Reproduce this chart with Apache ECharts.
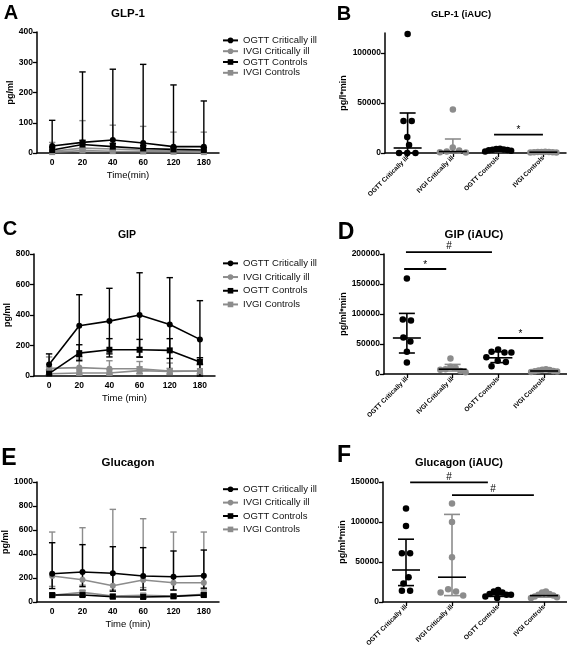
<!DOCTYPE html>
<html><head><meta charset="utf-8">
<script src="https://cdn.jsdelivr.net/npm/echarts@6/dist/echarts.min.js"></script>
<style>html,body{margin:0;padding:0;background:#fff}#c{width:567px;height:651px}</style>
</head><body><div id="c"></div>
<script>
// ---------------- DATA ----------------
const timeLabels = ['0', '20', '40', '60', '120', '180'];
const seriesNames = ['OGTT Critically ill', 'IVGI Critically ill', 'OGTT Controls', 'IVGI Controls'];
const groupLabels = ['OGTT Critically ill', 'IVGI Critically ill', 'OGTT Controls', 'IVGI Controls'];

// GLP-1 time course (pg/ml): mean, upper, lower
const glpOgttCrit   = [23, 35, 43, 33, 21, 21];
const glpOgttCritHi = [108, 268, 277, 293, 225, 172];
const glpOgttCritLo = [0, 0, 0, 0, 0, 0];
const glpIvgiCrit   = [6, 16, 13, 10, 7, 6];
const glpIvgiCritHi = [35, 107, 92, 88, 69, 69];
const glpIvgiCritLo = [0, 0, 0, 0, 0, 0];
const glpOgttCtrl   = [10, 28, 21, 15, 12, 10];
const glpOgttCtrlHi = [20, 42, 32, 25, 20, 18];
const glpOgttCtrlLo = [3, 14, 10, 6, 4, 3];
const glpIvgiCtrl   = [3, 8, 6, 5, 4, 3];
const glpIvgiCtrlHi = [8, 16, 12, 10, 9, 8];
const glpIvgiCtrlLo = [0, 2, 1, 1, 0, 0];

// GIP time course
const gipOgttCrit   = [75, 330, 360, 400, 338, 240];
const gipOgttCritHi = [145, 533, 575, 677, 645, 494];
const gipOgttCritLo = [5, 127, 145, 123, 31, 0];
const gipIvgiCrit   = [50, 55, 48, 48, 33, 33];
const gipIvgiCritHi = [125, 110, 100, 95, 85, 80];
const gipIvgiCritLo = [10, 15, 15, 15, 10, 10];
const gipOgttCtrl   = [15, 150, 172, 172, 168, 92];
const gipOgttCtrlHi = [40, 205, 245, 240, 245, 120];
const gipOgttCtrlLo = [5, 100, 125, 125, 115, 75];
const gipIvgiCtrl   = [15, 20, 20, 35, 30, 33];
const gipIvgiCtrlHi = [60, 45, 45, 60, 50, 110];
const gipIvgiCtrlLo = [5, 8, 8, 15, 15, 15];

// Glucagon time course
const gcgOgttCrit   = [236, 250, 239, 217, 211, 219];
const gcgOgttCritHi = [494, 478, 461, 453, 425, 433];
const gcgOgttCritLo = [112, 128, 90, 100, 100, 115];
const gcgIvgiCrit   = [217, 186, 136, 183, 161, 161];
const gcgIvgiCritHi = [583, 619, 772, 694, 583, 583];
const gcgIvgiCritLo = [130, 140, 100, 120, 100, 100];
const gcgOgttCtrl   = [58, 58, 44, 42, 47, 58];
const gcgOgttCtrlHi = [68, 70, 55, 52, 57, 68];
const gcgOgttCtrlLo = [48, 46, 33, 32, 37, 48];
const gcgIvgiCtrl   = [55, 80, 50, 55, 50, 65];
const gcgIvgiCtrlHi = [70, 95, 62, 68, 62, 78];
const gcgIvgiCtrlLo = [40, 65, 38, 42, 38, 52];

// GLP-1 iAUC (pg/l*min) individual values per group
const glpAucOgttCrit = [119000, 32000, 32000, 16000, 8000, 0, 0, 0];
const glpAucIvgiCrit = [43500, 5500, 2500, 1500, 800, 500];
const glpAucOgttCtrl = [4200, 4000, 3600, 3300, 3000, 2800, 2200, 1600];
const glpAucIvgiCtrl = [1300, 1100, 1000, 900, 800, 700, 600, 500];
const glpAucCenter = [5000, 1500, 2500, 800];
const glpAucLow    = [0, 0, 1800, 500];
const glpAucHigh   = [40000, 14000, 3500, 1100];

// GIP iAUC
const gipAucOgttCrit = [159000, 91000, 89000, 61000, 54000, 37000, 19000];
const gipAucIvgiCrit = [26000, 12000, 10000, 8000, 7000, 5000, 3000];
const gipAucOgttCtrl = [41000, 37000, 36000, 36000, 28000, 22000, 20000, 13000];
const gipAucIvgiCtrl = [8000, 7000, 6500, 6000, 5000, 4500, 4000, 3500];
const gipAucCenter = [60000, 8000, 27000, 5000];
const gipAucLow    = [35000, 5000, 19000, 4000];
const gipAucHigh   = [101000, 16000, 37000, 6500];

// Glucagon iAUC
const gcgAucOgttCrit = [117000, 95000, 61000, 61000, 31000, 23000, 14000, 14000];
const gcgAucIvgiCrit = [123000, 100000, 56000, 16000, 13000, 12000, 8000];
const gcgAucOgttCtrl = [15000, 13000, 12000, 10000, 9000, 9000, 7000, 5000];
const gcgAucIvgiCtrl = [13000, 12000, 10000, 9000, 8000, 7000, 6000, 5000];
const gcgAucCenter = [40000, 31000, 9000, 8000];
const gcgAucLow    = [20500, 8000, 7000, 6000];
const gcgAucHigh   = [78500, 109500, 11000, 10000];

// significance annotations (group-index span, level, mark)
const sigBFrom = [1.91], sigBTo = [2.99], sigBLevel = [18300], sigBMark = ['*'];
const sigDFrom = [-0.02, -0.06, 1.99], sigDTo = [1.86, 0.86, 2.98], sigDLevel = [203000, 175000, 60000], sigDMark = ['#', '*', '*'];
const sigFFrom = [0.09, 1.0], sigFTo = [1.78, 2.78], sigFLevel = [149500, 133700], sigFMark = ['#', '#'];

// ---------------- STYLE / LAYOUT ----------------
const FONT = '"Liberation Sans", Arial, Helvetica, sans-serif';
const BLACK = '#000000', GRAY = '#8c8c8c';
const colors = [BLACK, GRAY, BLACK, GRAY];
const symbols = ['circle', 'circle', 'rect', 'rect'];

const G = [
  {left: 37, top: 32, width: 182, height: 121},   // A
  {left: 385, top: 33, width: 181, height: 120},  // B
  {left: 34, top: 254, width: 181, height: 122},  // C
  {left: 384, top: 254, width: 183, height: 120}, // D
  {left: 37, top: 482, width: 182, height: 120},  // E
  {left: 383, top: 482, width: 184, height: 120}  // F
];

const axisLineStyle = {color: '#000', width: 1.5};
const tickStyle = {color: '#000', width: 1.3};

function catX(gi, name, gap) {
  return {
    type: 'category', gridIndex: gi, data: timeLabels, boundaryGap: true,
    name: name, nameLocation: 'middle', nameGap: gap,
    nameTextStyle: {fontFamily: FONT, fontSize: 9.5, color: '#000'},
    axisLine: {onZero: false, lineStyle: axisLineStyle},
    axisTick: {alignWithLabel: true, interval: 0, length: 4, lineStyle: tickStyle},
    axisLabel: {interval: 0, fontFamily: FONT, fontSize: 8.5, fontWeight: 'bold', color: '#000', margin: 5},
    splitLine: {show: false}
  };
}
function grpX(gi) {
  return {
    type: 'value', gridIndex: gi, min: -0.5, max: 3.5,
    axisLine: {onZero: false, lineStyle: axisLineStyle},
    axisTick: {customValues: [0, 1, 2, 3], length: 4, lineStyle: tickStyle},
    axisLabel: {customValues: [0, 1, 2, 3], rotate: 45, formatter: v => groupLabels[Math.round(v)] || '',
      fontFamily: FONT, fontSize: 6.5, fontWeight: 'bold', color: '#000', margin: 4},
    splitLine: {show: false}
  };
}
function valY(gi, max, interval, name, nameGap, fs, custom) {
  const y = {
    type: 'value', gridIndex: gi, min: 0, max: max, interval: interval,
    name: name, nameLocation: 'middle', nameGap: nameGap,
    nameTextStyle: {fontFamily: FONT, fontSize: 9, fontWeight: 'bold', color: '#000'},
    axisLine: {show: true, onZero: false, lineStyle: axisLineStyle},
    axisTick: {show: true, length: 4, lineStyle: tickStyle},
    axisLabel: {fontFamily: FONT, fontSize: fs, fontWeight: 'bold', color: '#000', margin: 4, formatter: v => String(v)},
    splitLine: {show: false}
  };
  if (custom) { y.axisTick.customValues = custom; y.axisLabel.customValues = custom; }
  return y;
}

function mkLine(x1, y1, x2, y2, color, w) {
  return {type: 'line', shape: {x1, y1, x2, y2}, style: {stroke: color, lineWidth: w, fill: null}};
}
function errRender(color) {
  return function (params, api) {
    const x = api.value(0);
    const lo = api.coord([x, api.value(1)]);
    const hi = api.coord([x, api.value(2)]);
    const w = 3.2;
    return {type: 'group', children: [
      mkLine(hi[0], hi[1], lo[0], lo[1], color, 1.4),
      mkLine(hi[0] - w, hi[1], hi[0] + w, hi[1], color, 1.4),
      mkLine(lo[0] - w, lo[1], lo[0] + w, lo[1], color, 1.4)
    ]};
  };
}
function statRender(params, api) {
  const g = api.value(0);
  const c = api.coord([g, api.value(1)]);
  const lo = api.coord([g, api.value(2)]);
  const hi = api.coord([g, api.value(3)]);
  const col = colors[g];
  const mw = 14, cw = 8;
  return {type: 'group', children: [
    mkLine(hi[0], hi[1], lo[0], lo[1], col, 1.6),
    mkLine(hi[0] - cw, hi[1], hi[0] + cw, hi[1], col, 1.6),
    mkLine(lo[0] - cw, lo[1], lo[0] + cw, lo[1], col, 1.6),
    mkLine(c[0] - mw, c[1], c[0] + mw, c[1], '#000', 1.6)
  ]};
}
function sigRender(marks) {
  return function (params, api) {
    const a = api.coord([api.value(0), api.value(2)]);
    const b = api.coord([api.value(1), api.value(2)]);
    const m = marks[params.dataIndex];
    return {type: 'group', children: [
      mkLine(a[0], a[1], b[0], b[1], '#000', 1.8),
      {type: 'text', x: (a[0] + b[0]) / 2, y: a[1] - (m === '*' ? 4 : 5.5),
        style: {text: m, font: '10px ' + FONT, fill: '#000', align: 'center', verticalAlign: 'middle',
          textAlign: 'center', textVerticalAlign: 'middle'}}
    ]};
  };
}

// beeswarm horizontal offsets (pixels)
function swarmOffsets(values, pxPerUnitY, D, maxHalf) {
  const order = values.map((v, i) => i).sort((a, b) => values[b] - values[a]);
  const pos = new Array(values.length);
  const placed = [];
  let side = 1;
  order.forEach(i => {
    const y = values[i] * pxPerUnitY;
    const cands = [0];
    placed.forEach(p => {
      const dy = Math.abs(p.y - y);
      if (dy < D) { const dx = Math.sqrt(D * D - dy * dy) + 0.01; cands.push(p.x + dx, p.x - dx); }
    });
    const ok = cands.filter(c => placed.every(p => Math.hypot(p.x - c, p.y - y) >= D - 0.001));
    ok.sort((a, b) => (Math.abs(Math.abs(a) - Math.abs(b)) > 0.05 ? Math.abs(a) - Math.abs(b) : (side > 0 ? b - a : a - b)));
    const p = {x: ok[0], y: y};
    side = -side;
    placed.push(p); pos[i] = p;
  });
  const parent = placed.map((_, k) => k);
  const find = k => parent[k] === k ? k : (parent[k] = find(parent[k]));
  for (let a = 0; a < placed.length; a++) for (let b = a + 1; b < placed.length; b++) {
    if (Math.hypot(placed[a].x - placed[b].x, placed[a].y - placed[b].y) < D + 0.5) parent[find(a)] = find(b);
  }
  const groups = {};
  placed.forEach((p, k) => { const r = find(k); (groups[r] = groups[r] || []).push(p); });
  Object.values(groups).forEach(g => {
    const m = g.reduce((s, p) => s + p.x, 0) / g.length;
    g.forEach(p => { p.x -= m; });
    const mx = Math.max(...g.map(p => Math.abs(p.x)));
    if (mx > maxHalf) g.forEach(p => { p.x *= maxHalf / mx; });
  });
  return pos.map(p => p.x);
}

const series = [];

function addLinePanel(gi, means, his, los) {
  const drawOrder = [3, 1, 2, 0];
  drawOrder.forEach(k => {
    series.push({
      name: 'err-' + gi + '-' + k, type: 'custom', xAxisIndex: gi, yAxisIndex: gi, z: 2, silent: true,
      renderItem: errRender(colors[k]),
      data: means[k].map((_, i) => [i, los[k][i], his[k][i]])
    });
  });
  drawOrder.forEach(k => {
    series.push({
      name: seriesNames[k], type: 'line', xAxisIndex: gi, yAxisIndex: gi, z: 3, silent: true,
      data: means[k], symbol: symbols[k], symbolSize: 6, showSymbol: true,
      lineStyle: {color: colors[k], width: 1.6}, itemStyle: {color: colors[k]},
      emphasis: {disabled: true}
    });
  });
}

function addScatterPanel(gi, yMax, groups, center, low, high, sFrom, sTo, sLevel, sMark) {
  const g = G[gi];
  const pxY = g.height / yMax, pxX = g.width / 4;
  groups.forEach((vals, k) => {
    const offs = swarmOffsets(vals, pxY, 8.2, 13);
    series.push({
      name: 'dots-' + gi + '-' + k, type: 'scatter', xAxisIndex: gi, yAxisIndex: gi, z: 3, silent: true,
      symbol: 'circle', symbolSize: 6.5, itemStyle: {color: colors[k], opacity: 1},
      data: vals.map((v, i) => [k + offs[i] / pxX, v])
    });
  });
  series.push({
    name: 'stat-' + gi, type: 'custom', xAxisIndex: gi, yAxisIndex: gi, z: 4, silent: true,
    renderItem: statRender,
    data: center.map((c, k) => [k, c, low[k], high[k]])
  });
  series.push({
    name: 'sig-' + gi, type: 'custom', xAxisIndex: gi, yAxisIndex: gi, z: 4, silent: true, clip: false,
    renderItem: sigRender(sMark),
    data: sFrom.map((f, i) => [f, sTo[i], sLevel[i]])
  });
}

addLinePanel(0,
  [glpOgttCrit, glpIvgiCrit, glpOgttCtrl, glpIvgiCtrl],
  [glpOgttCritHi, glpIvgiCritHi, glpOgttCtrlHi, glpIvgiCtrlHi],
  [glpOgttCritLo, glpIvgiCritLo, glpOgttCtrlLo, glpIvgiCtrlLo]);
addLinePanel(2,
  [gipOgttCrit, gipIvgiCrit, gipOgttCtrl, gipIvgiCtrl],
  [gipOgttCritHi, gipIvgiCritHi, gipOgttCtrlHi, gipIvgiCtrlHi],
  [gipOgttCritLo, gipIvgiCritLo, gipOgttCtrlLo, gipIvgiCtrlLo]);
addLinePanel(4,
  [gcgOgttCrit, gcgIvgiCrit, gcgOgttCtrl, gcgIvgiCtrl],
  [gcgOgttCritHi, gcgIvgiCritHi, gcgOgttCtrlHi, gcgIvgiCtrlHi],
  [gcgOgttCritLo, gcgIvgiCritLo, gcgOgttCtrlLo, gcgIvgiCtrlLo]);

addScatterPanel(1, 120000, [glpAucOgttCrit, glpAucIvgiCrit, glpAucOgttCtrl, glpAucIvgiCtrl],
  glpAucCenter, glpAucLow, glpAucHigh, sigBFrom, sigBTo, sigBLevel, sigBMark);
addScatterPanel(3, 200000, [gipAucOgttCrit, gipAucIvgiCrit, gipAucOgttCtrl, gipAucIvgiCtrl],
  gipAucCenter, gipAucLow, gipAucHigh, sigDFrom, sigDTo, sigDLevel, sigDMark);
addScatterPanel(5, 150000, [gcgAucOgttCrit, gcgAucIvgiCrit, gcgAucOgttCtrl, gcgAucIvgiCtrl],
  gcgAucCenter, gcgAucLow, gcgAucHigh, sigFFrom, sigFTo, sigFLevel, sigFMark);

function legendAt(top, lh) {
  return {
    left: 222, top: top, padding: 0, orient: 'vertical', itemWidth: 15, itemHeight: 7, itemGap: 0,
    selectedMode: false, data: seriesNames,
    textStyle: {fontFamily: FONT, fontSize: 9.5, color: '#111', lineHeight: lh}
  };
}

const texts = [
  {t: 'A', x: 11, y: 13, s: 20}, {t: 'B', x: 344, y: 14, s: 20},
  {t: 'C', x: 10, y: 229, s: 20}, {t: 'D', x: 346, y: 233, s: 23},
  {t: 'E', x: 9, y: 459, s: 23}, {t: 'F', x: 344, y: 456, s: 23},
  {t: 'GLP-1', x: 128, y: 14, s: 11.5}, {t: 'GLP-1 (iAUC)', x: 461, y: 14, s: 9.5},
  {t: 'GIP', x: 127, y: 235, s: 10.5}, {t: 'GIP (iAUC)', x: 474, y: 235, s: 11.5},
  {t: 'Glucagon', x: 128, y: 463, s: 11.5}, {t: 'Glucagon (iAUC)', x: 459, y: 463, s: 11}
];

const option = {
  animation: false,
  backgroundColor: '#ffffff',
  grid: G.map(g => Object.assign({containLabel: false, outerBoundsMode: 'none'}, g)),
  xAxis: [catX(0, 'Time(min)', 17.5), grpX(1), catX(2, 'Time (min)', 17.5), grpX(3), catX(4, 'Time (min)', 17.5), grpX(5)],
  yAxis: [
    valY(0, 400, 100, 'pg/ml', 21, 8.5),
    valY(1, 120000, 50000, 'pg/l*min', 37, 8.5, [0, 50000, 100000]),
    valY(2, 800, 200, 'pg/ml', 21, 8.5),
    valY(3, 200000, 50000, 'pg/ml*min', 36, 8.5),
    valY(4, 1000, 200, 'pg/ml', 25, 8.5),
    valY(5, 150000, 50000, 'pg/ml*min', 35, 8.5)
  ],
  legend: [legendAt(35, 10.8), legendAt(256.5, 13.7), legendAt(482.5, 13.4)],
  graphic: texts.map(o => ({
    type: 'text', x: o.x, y: o.y, silent: true,
    style: {text: o.t, font: 'bold ' + o.s + 'px ' + FONT, fill: '#000', align: 'center', verticalAlign: 'middle',
      textAlign: 'center', textVerticalAlign: 'middle'}
  })),
  series: series
};

const chart = echarts.init(document.getElementById('c'), null, {renderer: 'canvas'});
chart.setOption(option);
</script></body></html>
